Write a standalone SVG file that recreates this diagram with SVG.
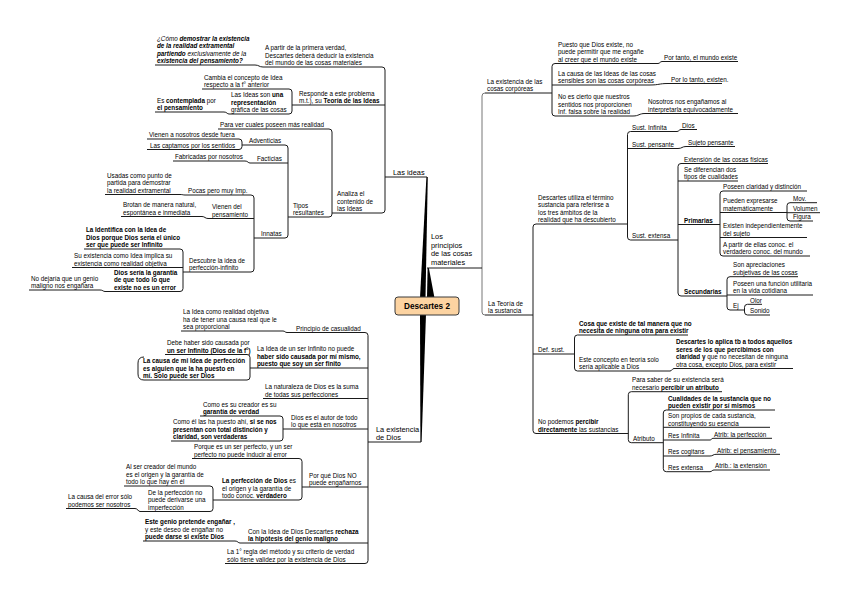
<svg xmlns="http://www.w3.org/2000/svg" width="848" height="599" viewBox="0 0 848 599">
<style>
text{font-family:"Liberation Sans",Arial,sans-serif;font-size:6.3px;fill:#000}
.b{font-weight:bold}
.i{font-style:italic}
.m{font-size:7.4px}
.u,.c path{fill:none;stroke:#1a1a1a;stroke-width:1}
.trunk{fill:#000}
.root rect{fill:#fcd3a1;stroke:#3a3a3a;stroke-width:1}
.root text{font-size:8.2px;font-weight:bold}
</style>
<rect width="848" height="599" fill="#fff"/>
<g id="connectors" class="c">
<path d="M382 67Q385 67 385 70V210Q385 213 382 213"/>
<path d="M289 89Q292 89 292 92V111Q292 114 289 114"/>
<path d="M329 129Q332 129 332 132V214Q332 217 329 217"/>
<path d="M285 145Q288 145 288 148V235Q288 238 285 238"/>
<path d="M239 139Q242 139 242 142V146.5Q242 149.5 239 149.5"/>
<path d="M251 195Q254 195 254 198V269Q254 272 251 272"/>
<path d="M180 249Q183 249 183 252V288.5Q183 291.5 180 291.5"/>
<path d="M365 332.5Q368 332.5 368 335.5V560.5Q368 563.5 365 563.5"/>
<path d="M247 354.5Q250 354.5 250 357.5V377Q250 380 247 380"/>
<path d="M280 416Q283 416 283 419V438Q283 441 280 441"/>
<path d="M299 458.5Q302 458.5 302 461.5V497Q302 500 299 500"/>
<path d="M210 486Q213 486 213 489V508.5Q213 511.5 210 511.5"/>
<path d="M255 65C259 65 259 67 263 67"/>
<path d="M224 112C227 112 227 114 229 114"/>
<path d="M245 161C248 161 248 163 250 163"/>
<path d="M180 194.5C183 194.5 183 195 185 195"/>
<path d="M202 216.5C205 216.5 205 218.5 208 218.5"/>
<path d="M100 290C103 290 103 291.5 105 291.5"/>
<path d="M283 331C285 331 285 332.5 287 332.5"/>
<path d="M135 508.5C138 508.5 138 511.5 140 511.5"/>
<path d="M235 541C238 541 238 543 240 543"/>
<path d="M485 93Q482 93 482 96V312Q482 315 485 315" style="stroke:#777"/>
<path d="M555 63.5Q552 63.5 552 66.5V113Q552 116 555 116"/>
<path d="M536 224Q533 224 533 227V430.5Q533 433.5 536 433.5"/>
<path d="M630.5 131.5Q627.5 131.5 627.5 134.5V237Q627.5 240 630.5 240"/>
<path d="M681 163.5Q678 163.5 678 166.5V293Q678 296 681 296"/>
<path d="M723 191Q720 191 720 194V253Q720 256 723 256"/>
<path d="M790 202.7Q787 202.7 787 205.7V218Q787 221 790 221"/>
<path d="M730 276.7Q727 276.7 727 279.7V307Q727 310 730 310"/>
<path d="M747.5 304.3Q744.5 304.3 744.5 307.3V312Q744.5 315 747.5 315"/>
<path d="M577.5 335Q574.5 335 574.5 338V368Q574.5 371 577.5 371"/>
<path d="M631.3 391.7Q628.3 391.7 628.3 394.7V439.7Q628.3 442.7 631.3 442.7"/>
<path d="M666.3 410Q663.3 410 663.3 413V468.7Q663.3 471.7 666.3 471.7"/>
<path d="M658 63.5C660 63.5 660 61.5 662 61.5"/>
<path d="M650 85C659 85 659 83.5 668 83.5"/>
<path d="M633 116C639 116 639 113.5 645 113.5"/>
<path d="M677 131.5C679 131.5 679 129.5 681 129.5"/>
<path d="M678 148.5C682 148.5 682 146.5 686 146.5"/>
<path d="M670 371C672 371 672 368.5 674 368.5"/>
<path d="M710 440C711.5 440 711.5 438.3 713 438.3"/>
<path d="M710 456C713 456 713 454.3 716 454.3"/>
<path d="M710 471.7C712 471.7 712 470 714 470"/>
</g>
<g id="trunks">
<polygon class="trunk" points="420,298 425.5,298 427.8,177 426.4,177"/>
<polygon class="trunk" points="427,298 434.5,298 428.9,268 427.6,268"/>
<polygon class="trunk" points="420,314 426,314 421.6,442 420.4,442"/>
</g>
<g id="n-root" class="root"><rect x="395" y="297" width="64" height="18" rx="3"/><text x="427" y="309" text-anchor="middle">Descartes 2</text></g>

<g id="n-las-ideas"><text class="m" x="393" y="175">Las ideas</text><path class="u" d="M385 177H427"/></g>
<g id="n-a-partir"><text><tspan x="265" y="50.2">A partir de la primera verdad,</tspan><tspan x="265" y="57.7">Descartes deberá deducir la existencia</tspan><tspan x="265" y="65.2">del mundo de las cosas materiales</tspan></text><path class="u" d="M263 67H382"/></g>
<g id="n-como"><text class="i"><tspan x="157" y="40.7">¿Cómo <tspan class="b">demostrar la existencia</tspan></tspan><tspan x="157" y="48.2" class="b">de la realidad extramental</tspan><tspan x="157" y="55.7"><tspan class="b">partiendo</tspan> exclusivamente de la</tspan><tspan x="157" y="63.2" class="b">existencia del pensamiento?</tspan></text><path class="u" d="M155 65H255"/></g>
<g id="n-responde"><text><tspan x="299" y="95.7">Responde a este problema</tspan><tspan x="299" y="103.2">m.t.), su <tspan class="b">Teoría de las Ideas</tspan></tspan></text><path class="u" d="M292 105H385"/></g>
<g id="n-cambia"><text><tspan x="204" y="79.7">Cambia el concepto de Idea</tspan><tspan x="204" y="87.2">respecto a la f° anterior</tspan></text><path class="u" d="M202 89H289"/></g>
<g id="n-representacion"><text><tspan x="231" y="97.2">Las Ideas son <tspan class="b">una</tspan></tspan><tspan x="231" y="104.7" class="b">representación</tspan><tspan x="231" y="112.2">gráfica de las cosas</tspan></text><path class="u" d="M229 114H289"/></g>
<g id="n-contemplada"><text><tspan x="157" y="102.7">Es <tspan class="b">contemplada</tspan> por</tspan><tspan x="157" y="110.2" class="b">el pensamiento</tspan></text><path class="u" d="M155 112H224"/></g>
<g id="n-analiza"><text><tspan x="337" y="196.2">Analiza el</tspan><tspan x="337" y="203.7">contenido de</tspan><tspan x="337" y="211.2">las Ideas</tspan></text><path class="u" d="M332 213H382"/></g>
<g id="n-para-ver"><text x="220" y="127.2">Para ver cuales poseen más realidad</text><path class="u" d="M218 129H329"/></g>
<g id="n-tipos"><text><tspan x="293" y="207.7">Tipos</tspan><tspan x="293" y="215.2">resultantes</tspan></text><path class="u" d="M288 217H329"/></g>
<g id="n-adventicias"><text x="249" y="143.2">Adventicias</text><path class="u" d="M242 145H285"/></g>
<g id="n-facticias"><text x="257" y="161.2">Facticias</text><path class="u" d="M250 163H288"/></g>
<g id="n-innatas"><text x="261" y="236.2">Innatas</text><path class="u" d="M254 238H285"/></g>
<g id="n-vienen-fuera"><text x="149" y="137.2">Vienen a nosotros desde fuera</text><path class="u" d="M147 139H239"/></g>
<g id="n-captamos"><text x="150" y="147.7">Las captamos por los sentidos</text><path class="u" d="M147 149.5H239"/></g>
<g id="n-fabricadas"><text x="175" y="159.2">Fabricadas por nosotros</text><path class="u" d="M173 161H245"/></g>
<g id="n-pocas"><text x="188" y="193.2">Pocas pero muy Imp.</text><path class="u" d="M185 195H251"/></g>
<g id="n-vienen-pens"><text><tspan x="212" y="209.2">Vienen del</tspan><tspan x="212" y="216.7">pensamiento</tspan></text><path class="u" d="M208 218.5H254"/></g>
<g id="n-descubre"><text><tspan x="189" y="262.7">Descubre la idea de</tspan><tspan x="189" y="270.2">perfección-infinito</tspan></text><path class="u" d="M183 272H251"/></g>
<g id="n-usadas"><text><tspan x="107" y="177.7">Usadas como punto de</tspan><tspan x="107" y="185.2">partida para demostrar</tspan><tspan x="107" y="192.7">la realidad extramental</tspan></text><path class="u" d="M105 194.5H180"/></g>
<g id="n-brotan"><text><tspan x="123" y="207.2">Brotan de manera natural,</tspan><tspan x="123" y="214.7">espontánea e inmediata</tspan></text><path class="u" d="M121 216.5H202"/></g>
<g id="n-identifica"><text class="b"><tspan x="86" y="232.2">La Identifica con la Idea de</tspan><tspan x="86" y="239.7">Dios porque Dios sería el único</tspan><tspan x="86" y="247.2">ser que puede ser Infinito</tspan></text><path class="u" d="M84 249H180"/></g>
<g id="n-su-existencia"><text><tspan x="74" y="258.2">Su existencia como Idea implica su</tspan><tspan x="74" y="265.7">existencia como realidad objetiva</tspan></text><path class="u" d="M72 267.5H183"/></g>
<g id="n-garantia"><text class="b"><tspan x="114" y="274.7">Dios sería la garantía</tspan><tspan x="114" y="282.2">de que todo lo que</tspan><tspan x="114" y="289.7">existe no es un error</tspan></text><path class="u" d="M105 291.5H180"/></g>
<g id="n-no-dejaria"><text><tspan x="31" y="280.7">No dejaría que un genio</tspan><tspan x="31" y="288.2">maligno nos engañara</tspan></text><path class="u" d="M29 290H100"/></g>

<g id="n-existencia-dios"><text class="m"><tspan x="376" y="431.5">La existencia</tspan><tspan x="376" y="440">de Dios</tspan></text><path class="u" d="M368 442H421"/></g>
<g id="n-principio"><text x="296" y="330.7">Principio de casualidad</text><path class="u" d="M287 332.5H365"/></g>
<g id="n-idea-objetiva"><text><tspan x="183" y="314.2">La Idea como realidad objetiva</tspan><tspan x="183" y="321.7">ha de tener una causa real que le</tspan><tspan x="183" y="329.2">sea proporcional</tspan></text><path class="u" d="M181 331H283"/></g>
<g id="n-idea-infinito"><text><tspan x="257" y="351.2">La Idea de un  ser Infinito no puede</tspan><tspan x="257" y="358.7" class="b">haber sido causada por mí mismo,</tspan><tspan x="257" y="366.2" class="b">puesto que soy un ser finito</tspan></text><path class="u" d="M250 368H368"/></g>
<g id="n-debe"><text><tspan x="167" y="345.2">Debe haber sido causada por</tspan><tspan x="167" y="352.7" class="b">un ser Infinito (Dios de la f°)</tspan></text><path class="u" d="M165 354.5H247"/></g>
<g id="n-la-causa"><text class="b"><tspan x="143" y="363.2">La causa de mi Idea de perfección</tspan><tspan x="143" y="370.7">es alguien que la ha puesto en</tspan><tspan x="143" y="378.2">mí. Solo puede ser Dios</tspan></text><path class="u" d="M247 380H144Q138 380 138 374V363Q138 357 144 357"/></g>
<g id="n-naturaleza"><text><tspan x="265" y="389.2">La naturaleza de Dios es la suma</tspan><tspan x="265" y="396.7">de todas sus perfecciones</tspan></text><path class="u" d="M263 398.5H368"/></g>
<g id="n-autor"><text><tspan x="291" y="419.7">Dios es el autor de todo</tspan><tspan x="291" y="427.2">lo que está en nosotros</tspan></text><path class="u" d="M283 429H368"/></g>
<g id="n-como-es"><text><tspan x="203" y="406.7">Como es su creador es su</tspan><tspan x="203" y="414.2" class="b">garantía de verdad</tspan></text><path class="u" d="M200 416H280"/></g>
<g id="n-como-el"><text><tspan x="173" y="424.2">Como él las ha puesto ahí, <tspan class="b">si se nos</tspan></tspan><tspan x="173" y="431.7" class="b">presentan con total distinción y</tspan><tspan x="173" y="439.2" class="b">claridad, son verdaderas</tspan></text><path class="u" d="M171 441H280"/></g>
<g id="n-por-que-no"><text><tspan x="309" y="477.7">Por qué Dios NO</tspan><tspan x="309" y="485.2">puede engañarnos</tspan></text><path class="u" d="M302 487H368"/></g>
<g id="n-porque-perfecto"><text><tspan x="194" y="449.2">Porque es un ser perfecto, y un ser</tspan><tspan x="194" y="456.7">perfecto no puede inducir al error</tspan></text><path class="u" d="M192 458.5H299"/></g>
<g id="n-perfeccion"><text><tspan x="222" y="483.2"><tspan class="b">La perfección de Dios</tspan> es</tspan><tspan x="222" y="490.7">el origen y la garantía de</tspan><tspan x="222" y="498.2">todo conoc. <tspan class="b">verdadero</tspan></tspan></text><path class="u" d="M213 500H299"/></g>
<g id="n-al-ser"><text><tspan x="126" y="469.2">Al ser creador del mundo</tspan><tspan x="126" y="476.7">es el origen y la garantía de</tspan><tspan x="126" y="484.2">todo lo que hay en él</tspan></text><path class="u" d="M124 486H210"/></g>
<g id="n-de-la-perfeccion"><text><tspan x="148" y="494.7">De la perfección no</tspan><tspan x="148" y="502.2">puede derivarse una</tspan><tspan x="148" y="509.7">imperfección</tspan></text><path class="u" d="M140 511.5H210"/></g>
<g id="n-causa-error"><text><tspan x="68" y="499.2">La causa del error sólo</tspan><tspan x="68" y="506.7">podemos ser nosotros</tspan></text><path class="u" d="M66 508.5H135"/></g>
<g id="n-con-la-idea"><text><tspan x="248" y="533.7">Con la Idea de Dios Descartes <tspan class="b">rechaza</tspan></tspan><tspan x="248" y="541.2" class="b">la hipótesis del genio maligno</tspan></text><path class="u" d="M240 543H368"/></g>
<g id="n-este-genio"><text><tspan x="145" y="524.2" class="b">Este genio pretende engañar ,</tspan><tspan x="145" y="531.7">y este deseo de engañar  no</tspan><tspan x="145" y="539.2" class="b">puede darse si existe Dios</tspan></text><path class="u" d="M143 541H235"/></g>
<g id="n-regla"><text><tspan x="227" y="554.2">La 1° regla del método y su criterio de verdad</tspan><tspan x="227" y="561.7">sólo tiene validez por la existencia de Dios</tspan></text><path class="u" d="M225 563.5H365"/></g>

<g id="n-principios"><text class="m"><tspan x="431" y="239">Los</tspan><tspan x="431" y="247.5">principios</tspan><tspan x="431" y="256">de las cosas</tspan><tspan x="431" y="264.5">materiales</tspan></text><path class="u" d="M427 268H482"/></g>
<g id="n-cosas-corporeas"><text><tspan x="487" y="83.7">La existencia de las</tspan><tspan x="487" y="91.2">cosas corpóreas</tspan></text><path class="u" d="M485 93H552"/></g>
<g id="n-puesto"><text><tspan x="558" y="46.7">Puesto que Dios existe, no</tspan><tspan x="558" y="54.2">puede permitir que me engañe</tspan><tspan x="558" y="61.7">al creer que el mundo existe</tspan></text><path class="u" d="M555 63.5H658"/></g>
<g id="n-por-tanto"><text x="664" y="59.7">Por tanto, el mundo existe</text><path class="u" d="M662 61.5H738"/></g>
<g id="n-causa-ideas"><text><tspan x="558" y="75.7">La causa de las Ideas de las cosas</tspan><tspan x="558" y="83.2">sensibles son las cosas corpóreas</tspan></text><path class="u" d="M552 85H650"/></g>
<g id="n-por-lo-tanto"><text x="671" y="81.7">Por lo tanto, existen.</text><path class="u" d="M668 83.5H722"/></g>
<g id="n-no-es-cierto"><text><tspan x="558" y="99.2">No es cierto que nuestros</tspan><tspan x="558" y="106.7">sentidos nos proporcionen</tspan><tspan x="558" y="114.2">Inf. falsa sobre la realidad</tspan></text><path class="u" d="M555 116H633"/></g>
<g id="n-nosotros"><text><tspan x="648" y="104.2">Nosotros nos engañamos al</tspan><tspan x="648" y="111.7">interpretarla equivocadamente</tspan></text><path class="u" d="M645 113.5H738"/></g>
<g id="n-teoria"><text><tspan x="488" y="305.7">La Teoría de</tspan><tspan x="488" y="313.2">la sustancia</tspan></text><path class="u" d="M485 315H533"/></g>
<g id="n-utiliza"><text><tspan x="538" y="199.7">Descartes utiliza el término</tspan><tspan x="538" y="207.2">sustancia para referirse a</tspan><tspan x="538" y="214.7">los tres ámbitos de la</tspan><tspan x="538" y="222.2">realidad que ha descubierto</tspan></text><path class="u" d="M536 224H627.5"/></g>
<g id="n-sust-infinita"><text x="632" y="129.7">Sust. Infinita</text><path class="u" d="M630.5 131.5H677"/></g>
<g id="n-dios"><text x="682" y="127.7">Dios</text><path class="u" d="M681 129.5H697"/></g>
<g id="n-sust-pensante"><text x="632" y="146.7">Sust. pensante</text><path class="u" d="M627.5 148.5H678"/></g>
<g id="n-sujeto"><text x="688" y="144.7">Sujeto pensante</text><path class="u" d="M686 146.5H735"/></g>
<g id="n-sust-extensa"><text x="632" y="238.2">Sust. extensa</text><path class="u" d="M630.5 240H678"/></g>
<g id="n-extension"><text x="684" y="161.7">Extensión de las cosas físicas</text><path class="u" d="M681 163.5H768"/></g>
<g id="n-se-diferencian"><text><tspan x="684" y="171.7">Se diferencian dos</tspan><tspan x="684" y="179.2">tipos de cualidades</tspan></text><path class="u" d="M678 181H738"/></g>
<g id="n-primarias"><text class="b" x="684" y="222.7">Primarias</text><path class="u" d="M678 224.5H720"/></g>
<g id="n-poseen"><text x="723" y="189.2">Poseen claridad y distinción</text><path class="u" d="M723 191H807"/></g>
<g id="n-pueden"><text><tspan x="723" y="203.2">Pueden expresarse</tspan><tspan x="723" y="210.7">matemáticamente</tspan></text><path class="u" d="M720 212.5H787"/></g>
<g id="n-mov"><text x="793" y="200.9">Mov.</text><path class="u" d="M790 202.7H817"/></g>
<g id="n-volumen"><text x="793" y="210.9">Volumen</text><path class="u" d="M787 212.7H820"/></g>
<g id="n-figura"><text x="793" y="219.2">Figura</text><path class="u" d="M790 221H813"/></g>
<g id="n-existen"><text><tspan x="723" y="228.2">Existen independientemente</tspan><tspan x="723" y="235.7">del sujeto</tspan></text><path class="u" d="M720 237.5H807"/></g>
<g id="n-a-partir-ellas"><text><tspan x="723" y="246.7">A partir de ellas conoc. el</tspan><tspan x="723" y="254.2">verdadero conoc. del mundo</tspan></text><path class="u" d="M723 256H810"/></g>
<g id="n-secundarias"><text class="b" x="684" y="294.2">Secundarias</text><path class="u" d="M681 296H727"/></g>
<g id="n-apreciaciones"><text><tspan x="733" y="267.4">Son apreciaciones</tspan><tspan x="733" y="274.9">subjetivas de las cosas</tspan></text><path class="u" d="M730 276.7H798"/></g>
<g id="n-funcion"><text><tspan x="733" y="285.7">Poseen una función utilitaria</tspan><tspan x="733" y="293.2">en la vida cotidiana</tspan></text><path class="u" d="M727 295H813"/></g>
<g id="n-ej"><text x="733" y="308.2">Ej</text><path class="u" d="M730 310H744.5"/></g>
<g id="n-olor"><text x="750" y="302.5">Olor</text><path class="u" d="M747.5 304.3H762"/></g>
<g id="n-sonido"><text x="750" y="313.2">Sonido</text><path class="u" d="M747.5 315H770"/></g>
<g id="n-def-sust"><text x="538" y="352.2">Def. sust.</text><path class="u" d="M533 354H574.5"/></g>
<g id="n-cosa"><text class="b"><tspan x="579" y="325.7">Cosa que existe de tal manera que no</tspan><tspan x="579" y="333.2">necesita de ninguna otra para existir</tspan></text><path class="u" d="M577.5 335H688"/></g>
<g id="n-este-concepto"><text><tspan x="579" y="361.7">Este concepto en teoría solo</tspan><tspan x="579" y="369.2">sería aplicable a Dios</tspan></text><path class="u" d="M577.5 371H670"/></g>
<g id="n-aplica"><text><tspan x="676" y="344.2" class="b">Descartes lo aplica tb a todos aquellos</tspan><tspan x="676" y="351.7" class="b">seres de los que percibimos con</tspan><tspan x="676" y="359.2"><tspan class="b">claridad y</tspan> que no necesitan de ninguna</tspan><tspan x="676" y="366.7">otra cosa, excepto Dios, para existir</tspan></text><path class="u" d="M674 368.5H793"/></g>
<g id="n-no-podemos"><text><tspan x="538" y="424.2">No podemos <tspan class="b">percibir</tspan></tspan><tspan x="538" y="431.7"><tspan class="b">directamente</tspan> las sustancias</tspan></text><path class="u" d="M536 433.5H628.3"/></g>
<g id="n-para-saber"><text><tspan x="632" y="382.4">Para saber de su existencia será</tspan><tspan x="632" y="389.9">necesario <tspan class="b">percibir un atributo</tspan></tspan></text><path class="u" d="M631.3 391.7H722"/></g>
<g id="n-atributo"><text x="633" y="440.9">Atributo</text><path class="u" d="M631.3 442.7H663.3"/></g>
<g id="n-cualidades"><text class="b"><tspan x="668" y="400.7">Cualidades de la sustancia que no</tspan><tspan x="668" y="408.2">pueden existir por sí mismos</tspan></text><path class="u" d="M666.3 410H775"/></g>
<g id="n-propios"><text><tspan x="668" y="418">Son propios de cada sustancia,</tspan><tspan x="668" y="425.5">constituyendo su esencia</tspan></text><path class="u" d="M663.3 427.3H770"/></g>
<g id="n-res-infinita"><text x="668" y="438.2">Res Infinita</text><path class="u" d="M663.3 440H710"/></g>
<g id="n-atrib-perfeccion"><text x="714" y="436.5">Atrib: la perfección</text><path class="u" d="M713 438.3H772"/></g>
<g id="n-res-cogitans"><text x="668" y="454.2">Res cogitans</text><path class="u" d="M663.3 456H710"/></g>
<g id="n-atrib-pensamiento"><text x="717" y="452.5">Atrib: el pensamiento</text><path class="u" d="M716 454.3H780"/></g>
<g id="n-res-extensa"><text x="668" y="469.9">Res extensa</text><path class="u" d="M666.3 471.7H710"/></g>
<g id="n-atrib-extension"><text x="715" y="468.2">Atrib.: la extensión</text><path class="u" d="M714 470H770"/></g>
</svg>
